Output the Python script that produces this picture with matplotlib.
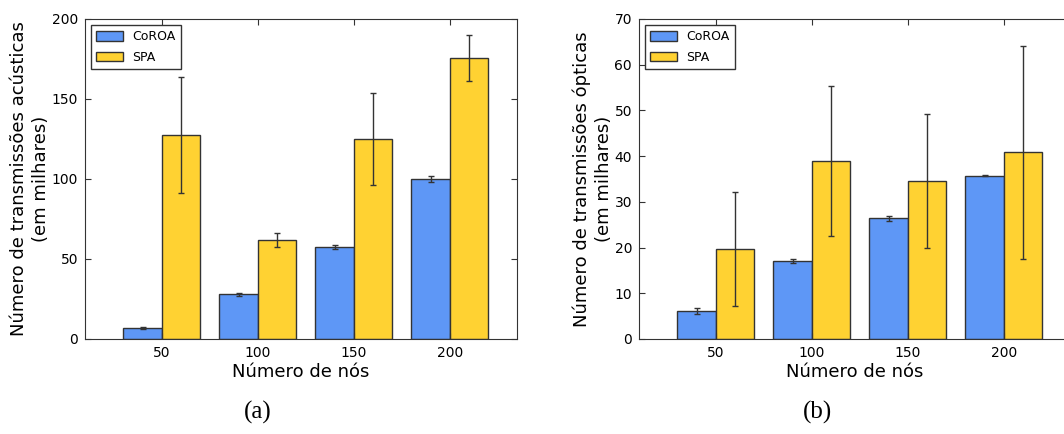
import numpy as np
import matplotlib
matplotlib.use("Agg")
import matplotlib.pyplot as plt

# dados (em milhares)
nos = ["50", "100", "150", "200"]

acust_coroa = [7, 28, 57.5, 100]
acust_coroa_err = [0.5, 1.0, 1.5, 2.0]
acust_spa = [127.5, 62, 125, 175.5]
acust_spa_err = [36.5, 4.3, 28.5, 14.5]

opt_coroa = [6.1, 17.1, 26.4, 35.7]
opt_coroa_err = [0.6, 0.4, 0.5, 0.15]
opt_spa = [19.7, 38.9, 34.6, 40.8]
opt_spa_err = [12.5, 16.4, 14.6, 23.3]

COR_COROA = "#5e97f6"
COR_SPA = "#ffd232"
W, H = 1064, 434

plt.rcParams["font.family"] = "DejaVu Sans"


def painel(ax, coroa, coroa_err, spa, spa_err, ymax, yticks, ylabel):
    x = np.arange(len(nos))
    w = 0.4
    ekw = dict(ecolor="#333333", elinewidth=1, capsize=2.5, capthick=1)
    ax.bar(x - w / 2, coroa, w, yerr=coroa_err, color=COR_COROA,
           edgecolor="#333333", linewidth=1, label="CoROA", error_kw=ekw)
    ax.bar(x + w / 2, spa, w, yerr=spa_err, color=COR_SPA,
           edgecolor="#333333", linewidth=1, label="SPA", error_kw=ekw)
    ax.set_xlim(-0.8, 3.7)
    ax.set_ylim(0, ymax)
    ax.set_xticks(x)
    ax.set_xticklabels(nos)
    ax.set_yticks(yticks)
    ax.tick_params(direction="in", top=True, right=True, length=4,
                   labelsize=10, pad=5, color="#333333")
    for s in ax.spines.values():
        s.set_color("#333333")
    ax.set_xlabel("Número de nós", fontsize=13, labelpad=2)
    ax.set_ylabel(ylabel, fontsize=13, labelpad=1, linespacing=1.3)
    leg = ax.legend(loc="upper left", fontsize=9, fancybox=False,
                    edgecolor="#333333", framealpha=1, handlelength=2.1,
                    handleheight=0.8, borderaxespad=0.5, labelspacing=0.6)
    leg.get_frame().set_linewidth(1)


fig = plt.figure(figsize=(W / 100, H / 100), dpi=100)

ax1 = fig.add_axes([85 / W, (H - 339) / H, 432 / W, 320 / H])
painel(ax1, acust_coroa, acust_coroa_err, acust_spa, acust_spa_err,
       200, [0, 50, 100, 150, 200],
       "Número de transmissões acústicas\n(em milhares)")

ax2 = fig.add_axes([639 / W, (H - 339) / H, 432 / W, 320 / H])
painel(ax2, opt_coroa, opt_coroa_err, opt_spa, opt_spa_err,
       70, [0, 10, 20, 30, 40, 50, 60, 70],
       "Número de transmissões ópticas\n(em milhares)")

fig.text(258 / W, 1 - 412 / H, "(a)", ha="center", va="center",
         family="Liberation Serif", fontsize=18)
fig.text(818 / W, 1 - 412 / H, "(b)", ha="center", va="center",
         family="Liberation Serif", fontsize=18)

fig.savefig("out.png", dpi=100)
